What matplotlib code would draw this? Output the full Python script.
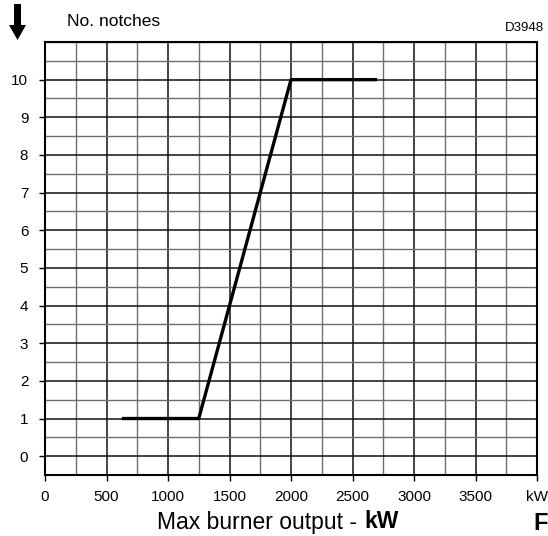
import matplotlib
matplotlib.use('Agg')
import matplotlib.pyplot as plt
from matplotlib.patches import Polygon
from matplotlib.ticker import MultipleLocator

plt.rcParams['font.family'] = ['Liberation Sans', 'DejaVu Sans']

# Curve data (kW, notches)
output_kw = [625, 1250, 2000, 2700]
notches = [1, 1, 10, 10]

# Axis labels
x_ticks = [0, 500, 1000, 1500, 2000, 2500, 3000, 3500, 4000]
x_tick_labels = ['0', '500', '1000', '1500', '2000', '2500', '3000', '3500', 'kW']
y_ticks = list(range(0, 11))

W, H = 548, 536

fig = plt.figure(figsize=(W / 100, H / 100), dpi=100)
ax = fig.add_axes([45 / W, 1 - 475 / H, 492 / W, 433 / H])
ax.set_xlim(0, 4000)
ax.set_ylim(-0.5, 11)

# Grid: minor lines every 250 kW / 0.5 notch, major every 500 kW / 1 notch
ax.xaxis.set_minor_locator(MultipleLocator(250))
ax.yaxis.set_minor_locator(MultipleLocator(0.5))
ax.grid(which='major', color='#111111', linewidth=1.1)
ax.grid(which='minor', color='#707070', linewidth=1.0)
ax.set_axisbelow(True)

ax.plot(output_kw, notches, color='black', linewidth=2.4, solid_capstyle='butt', zorder=3)

ax.set_xticks(x_ticks)
ax.set_xticklabels(x_tick_labels, fontsize=11)
ax.set_yticks(y_ticks)
ax.set_yticklabels([str(v) for v in y_ticks], fontsize=11)
ax.tick_params(which='major', length=4, width=1, direction='out')
ax.tick_params(axis='x', pad=7)
ax.tick_params(axis='y', pad=8)
ax.tick_params(which='minor', length=0)

for sp in ax.spines.values():
    sp.set_linewidth(1.5)
    sp.set_color('black')


def px(x, y):
    return (x / W, 1 - y / H)


# Down arrow next to the y title
arrow = Polygon([px(14, 4), px(21, 4), px(21, 25), px(26, 25), px(17.5, 40),
                 px(9, 25), px(14, 25)], closed=True, transform=fig.transFigure,
                facecolor='black', edgecolor='none')
fig.patches.append(arrow)

# Titles and annotations
fig.text(*px(67, 21), 'No. notches', fontsize=12.5, va='center', ha='left')
fig.text(*px(544, 28), 'D3948', fontsize=9.5, va='center', ha='right')
label = fig.text(*px(157, 523), 'Max burner output - ', fontsize=16.5, va='center', ha='left')
fig.canvas.draw()
bb = label.get_window_extent()
fig.text(bb.x1 / W + 1 / W, px(0, 522)[1], 'kW', fontsize=16.5, fontweight='bold',
         va='center', ha='left')
fig.text(*px(533, 523), 'F', fontsize=17, fontweight='bold', va='center', ha='left')

fig.savefig('out.png', dpi=100)
